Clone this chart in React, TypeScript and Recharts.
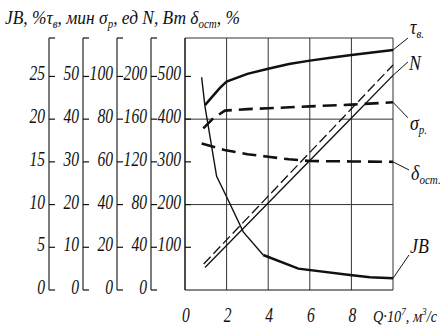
import React from 'react';
import { LineChart, Line, XAxis, YAxis, CartesianGrid, ReferenceLine, ReferenceDot } from 'recharts';

const FONT = 'Liberation Serif, DejaVu Serif, serif';
const INK = '#111';
const GRID = '#333';

// Q, ×10^7 m³/s  — series values
const jbQ = [0.8, 0.96, 1.52, 2.08, 2.8, 3.76, 5.45, 7.93, 8.89, 10];
const jbValues = [24.9, 21.5, 13.3, 10.5, 6.8, 4.1, 2.5, 1.75, 1.5, 1.37]; // JB, %
const tauQ = [0.96, 1.68, 2, 3, 4, 5, 6, 7, 8, 9, 10];
const tauValues = [43.3, 47.3, 48.8, 50.6, 51.8, 52.9, 53.7, 54.4, 55.0, 55.6, 56.2]; // τв, мин
const sigmaQ = [0.88, 1.36, 1.92, 3, 4, 6, 8, 10];
const sigmaValues = [75.7, 80.4, 84.0, 84.7, 85.1, 86.0, 86.8, 87.9]; // σр, ед
const nQ = [0.96, 4, 6, 8, 10];
const nValues = [21, 81.5, 121.3, 161.1, 201]; // N, Вт (solid)
const n2Q = [0.9, 4, 6, 8, 10];
const n2Values = [24.4, 87.9, 128.8, 169.7, 210.7]; // N, Вт (dashed)
const deltaQ = [0.8, 1.9, 3, 4, 5, 6, 8, 10];
const deltaValues = [343, 328, 318, 312, 306, 302, 301, 300]; // δост, %

const xTicks = [0, 2, 4, 6, 8, 10];
const jbTicks = [0, 5, 10, 15, 20, 25];
const tauTicks = [0, 10, 20, 30, 40, 50];
const sigmaTicks = [0, 20, 40, 60, 80, 100];
const nTicks = [0, 40, 80, 120, 160, 200];
const deltaTicks = [100, 200, 300, 400, 500];

// axis tops (the lines run a little past the last labelled tick)
const jbTop = 29.5;
const tauTop = 59;
const sigmaTop = 118;
const nTop = 236;
const deltaTop = 590;

const toRows = (qs: number[], vs: number[]) => qs.map((q, i) => ({ q, v: vs[i] }));
const jbData = toRows(jbQ, jbValues);
const jbSteep = jbData.filter((d) => d.q <= 3.76);
const jbTail = jbData.filter((d) => d.q >= 3.76);
const tauData = toRows(tauQ, tauValues);
const sigmaData = toRows(sigmaQ, sigmaValues);
const nData = toRows(nQ, nValues);
const n2Data = toRows(n2Q, n2Values);
const deltaData = toRows(deltaQ, deltaValues);

const last = (a: number[]) => a[a.length - 1];

// axis ids sort alphabetically from the plot outwards
const AX_D = 'a_delta';
const AX_N = 'b_n';
const AX_S = 'c_sigma';
const AX_T = 'd_tau';
const AX_J = 'e_jb';

const YTick = (props: any) => {
  const { x, y, payload, topValue } = props;
  const isTop = payload.value === topValue;
  return (
    <g>
      <line x1={x} y1={y} x2={x + 6} y2={y} stroke={INK} strokeWidth={1.2} />
      {isTop ? null : (
        <text
          transform={`translate(${x - 4},${y + 4}) scale(0.78,1)`}
          textAnchor="end"
          fontSize={20}
          fontStyle="italic"
          fontFamily={FONT}
          fill={INK}
        >
          {payload.value}
        </text>
      )}
    </g>
  );
};

const XTick = (props: any) => {
  const { x, y, payload } = props;
  if (payload.value === 10) {
    return (
      <text
        x={x - 20}
        y={y + 32}
        textLength={64}
        lengthAdjust="spacingAndGlyphs"
        fontSize={17}
        fontStyle="italic"
        fontFamily={FONT}
        fill={INK}
      >
        Q·10<tspan dy={-7} fontSize={11}>7</tspan>
        <tspan dy={7}>, м</tspan>
        <tspan dy={-7} fontSize={11}>3</tspan>
        <tspan dy={7}>/с</tspan>
      </text>
    );
  }
  return (
    <text
      transform={`translate(${x + 1},${y + 32}) scale(0.78,1)`}
      textAnchor="middle"
      fontSize={20}
      fontStyle="italic"
      fontFamily={FONT}
      fill={INK}
    >
      {payload.value}
    </text>
  );
};

const curveLabel = (main: string, sub: string) => (props: any) => {
  const { cx, cy } = props;
  return (
    <text
      transform={`translate(${cx},${cy}) scale(0.85,1)`}
      fontSize={21}
      fontStyle="italic"
      fontFamily={FONT}
      fill={INK}
    >
      {main}
      {sub ? (
        <tspan fontSize={13} dy={4}>
          {sub}
        </tspan>
      ) : null}
    </text>
  );
};

const yAxisCommon = {
  tickSize: 0,
  tickMargin: 0,
  tickLine: false,
  axisLine: { stroke: INK, strokeWidth: 1.1 },
  interval: 0 as const,
  width: 34,
  type: 'number' as const,
};

export default function App() {
  return (
    <div style={{ position: 'absolute', left: 0, top: 0, width: 445, height: 332, background: '#fff' }}>
      <svg width={445} height={40} style={{ position: 'absolute', left: 0, top: 0 }}>
        <text
          x={5}
          y={24}
          textLength={235}
          lengthAdjust="spacingAndGlyphs"
          fontSize={19}
          fontStyle="italic"
          fontFamily={FONT}
          fill={INK}
        >
          JB, %τ<tspan fontSize={12} dy={4}>в</tspan>
          <tspan dy={-4}>, мин σ</tspan>
          <tspan fontSize={12} dy={4}>р</tspan>
          <tspan dy={-4}>, ед N, Вт δ</tspan>
          <tspan fontSize={12} dy={4}>ост</tspan>
          <tspan dy={-4}>, %</tspan>
        </text>
      </svg>
      <div style={{ position: 'absolute', left: 0, top: 0 }}>
        <LineChart width={445} height={332} margin={{ top: 38, right: 52, bottom: 0, left: 0 }}>
          <XAxis
            dataKey="q"
            type="number"
            domain={[0, 10]}
            ticks={xTicks}
            interval={0}
            tickSize={0}
            tickMargin={0}
            tickLine={false}
            axisLine={{ stroke: INK, strokeWidth: 1.1 }}
            tick={<XTick />}
            height={42}
          />
          <YAxis yAxisId={AX_D} {...yAxisCommon} domain={[0, deltaTop]} ticks={deltaTicks} tick={<YTick topValue={deltaTop} />} />
          <YAxis yAxisId={AX_N} {...yAxisCommon} domain={[0, nTop]} ticks={[...nTicks, nTop]} tick={<YTick topValue={nTop} />} />
          <YAxis yAxisId={AX_S} {...yAxisCommon} domain={[0, sigmaTop]} ticks={[...sigmaTicks, sigmaTop]} tick={<YTick topValue={sigmaTop} />} />
          <YAxis yAxisId={AX_T} {...yAxisCommon} domain={[0, tauTop]} ticks={[...tauTicks, tauTop]} tick={<YTick topValue={tauTop} />} />
          <YAxis yAxisId={AX_J} {...yAxisCommon} domain={[0, jbTop]} ticks={[...jbTicks, jbTop]} tick={<YTick topValue={jbTop} />} width={49} />

          <CartesianGrid yAxisId={AX_D} horizontal={false} stroke={GRID} strokeWidth={1} />
          <ReferenceLine yAxisId={AX_D} y={200} stroke={GRID} strokeWidth={1} />
          <ReferenceLine yAxisId={AX_D} y={400} stroke={GRID} strokeWidth={1} />
          <ReferenceLine yAxisId={AX_D} y={deltaTop} stroke={GRID} strokeWidth={1} />

          <Line yAxisId={AX_T} data={tauData} dataKey="v" type="linear" stroke={INK} strokeWidth={2.5} dot={false} activeDot={false} isAnimationActive={false} />
          <Line yAxisId={AX_S} data={sigmaData} dataKey="v" type="linear" stroke={INK} strokeWidth={2.6} strokeDasharray="14 7" dot={false} activeDot={false} isAnimationActive={false} />
          <Line yAxisId={AX_D} data={deltaData} dataKey="v" type="linear" stroke={INK} strokeWidth={2.6} strokeDasharray="14 7" dot={false} activeDot={false} isAnimationActive={false} />
          <Line yAxisId={AX_N} data={nData} dataKey="v" type="linear" stroke={INK} strokeWidth={1.3} dot={false} activeDot={false} isAnimationActive={false} />
          <Line yAxisId={AX_N} data={n2Data} dataKey="v" type="linear" stroke={INK} strokeWidth={1.3} strokeDasharray="10 4" dot={false} activeDot={false} isAnimationActive={false} />
          <Line yAxisId={AX_J} data={jbSteep} dataKey="v" type="linear" stroke={INK} strokeWidth={1.4} dot={false} activeDot={false} isAnimationActive={false} />
          <Line yAxisId={AX_J} data={jbTail} dataKey="v" type="linear" stroke={INK} strokeWidth={2.5} dot={false} activeDot={false} isAnimationActive={false} />

          <ReferenceLine yAxisId={AX_T} ifOverflow="visible" segment={[{ x: 10, y: last(tauValues) }, { x: 10.72, y: 59 }]} stroke={INK} strokeWidth={1} />
          <ReferenceLine yAxisId={AX_N} ifOverflow="visible" segment={[{ x: 10, y: last(nValues) }, { x: 10.72, y: 213.6 }]} stroke={INK} strokeWidth={1} />
          <ReferenceLine yAxisId={AX_S} ifOverflow="visible" segment={[{ x: 10, y: last(sigmaValues) }, { x: 10.72, y: 80.6 }]} stroke={INK} strokeWidth={1} />
          <ReferenceLine yAxisId={AX_D} ifOverflow="visible" segment={[{ x: 10, y: last(deltaValues) }, { x: 10.77, y: 281 }]} stroke={INK} strokeWidth={1} />
          <ReferenceLine yAxisId={AX_J} ifOverflow="visible" segment={[{ x: 10, y: last(jbValues) }, { x: 10.77, y: 4.1 }]} stroke={INK} strokeWidth={1} />

          <ReferenceDot yAxisId={AX_D} x={10.82} y={599} r={0} ifOverflow="visible" shape={curveLabel('τ', 'в.')} />
          <ReferenceDot yAxisId={AX_D} x={10.77} y={515} r={0} ifOverflow="visible" shape={curveLabel('N', '')} />
          <ReferenceDot yAxisId={AX_D} x={10.82} y={375} r={0} ifOverflow="visible" shape={curveLabel('σ', 'р.')} />
          <ReferenceDot yAxisId={AX_D} x={10.87} y={258} r={0} ifOverflow="visible" shape={curveLabel('δ', 'ост.')} />
          <ReferenceDot yAxisId={AX_D} x={10.82} y={87} r={0} ifOverflow="visible" shape={curveLabel('JB', '')} />
        </LineChart>
      </div>
    </div>
  );
}
